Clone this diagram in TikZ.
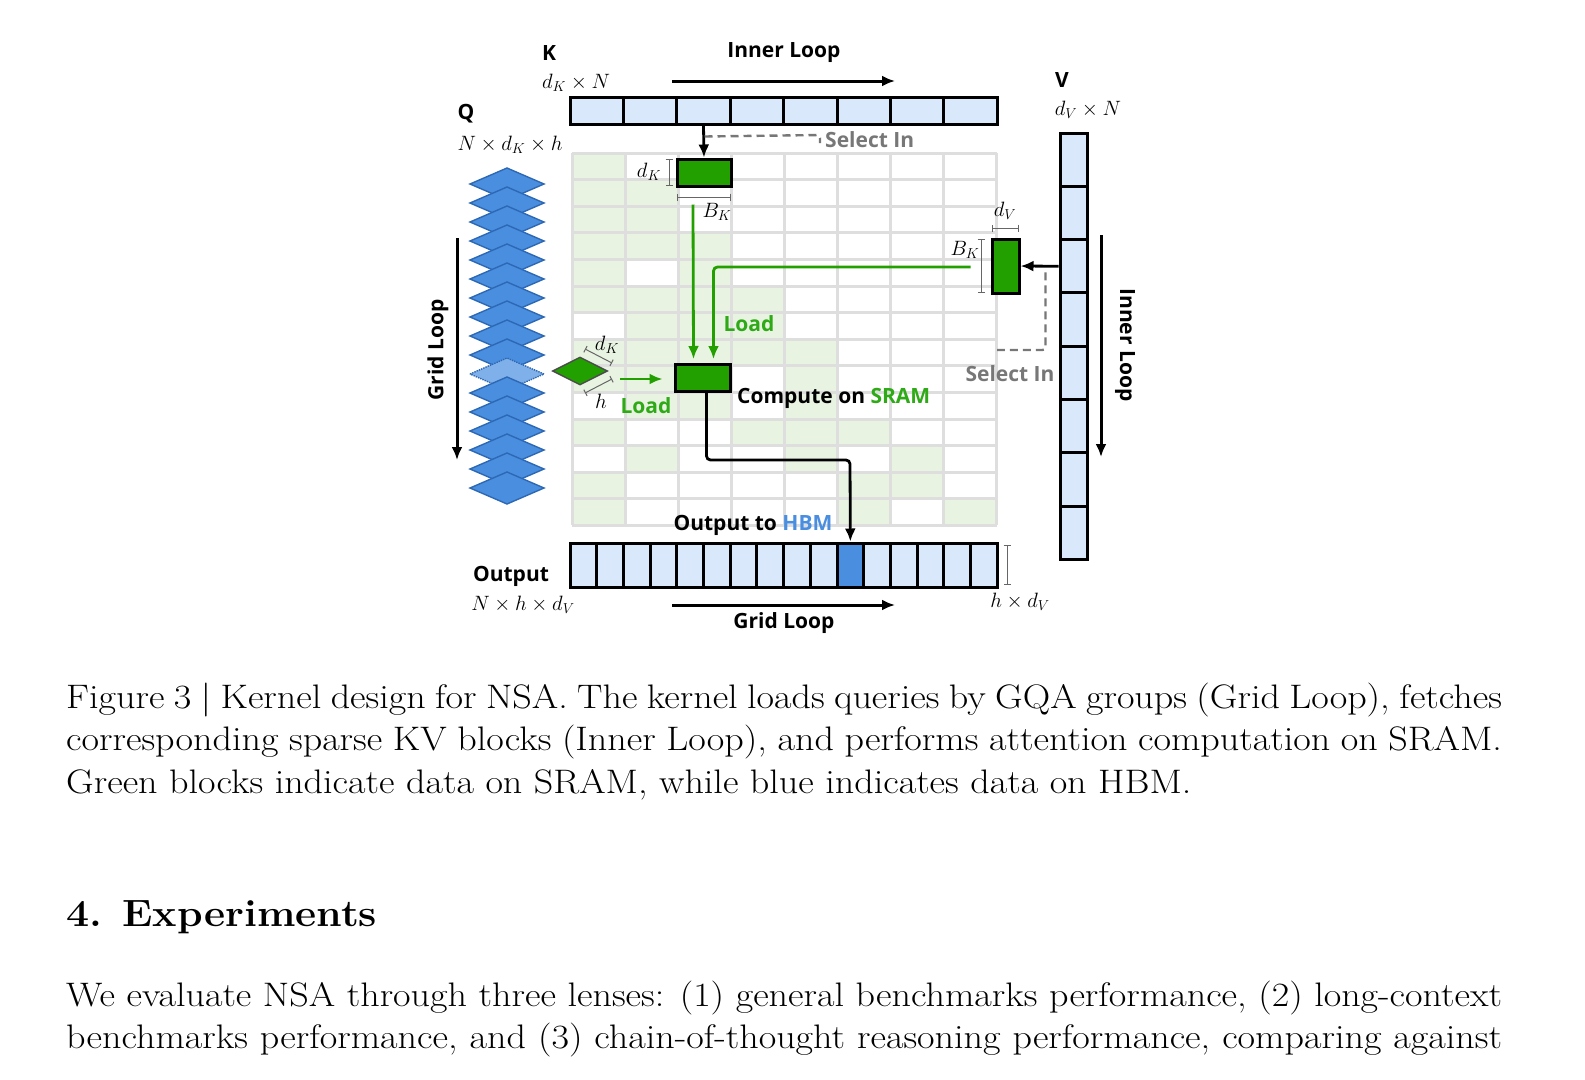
\documentclass[tikz,border=0pt]{standalone}
\usepackage{fontspec}
\newfontfamily\osans{Open Sans}
\usetikzlibrary{shapes.geometric,calc,arrows.meta}
\definecolor{lblue}{HTML}{DAE8FC}
\definecolor{dblue}{HTML}{4A8EE0}
\definecolor{eblue}{HTML}{2C68B4}
\definecolor{sgreen}{HTML}{22A000}
\definecolor{tgreen}{HTML}{2EAA16}
\definecolor{cellgreen}{HTML}{E8F3E2}
\definecolor{gline}{HTML}{DEDEDE}
\definecolor{sel}{HTML}{777777}
\tikzset{>={Latex[length=13pt,width=11pt]}}
\tikzset{
  lbl/.style  = {font=\osans\bfseries\fontsize{21}{24}\selectfont, inner sep=0},
  mth/.style  = {font=\fontsize{21}{24}\selectfont, inner sep=0},
  cell/.style = {draw, fill=lblue, line width=3pt, inner sep=0},
  blk/.style  = {draw, fill=sgreen, line width=3pt, inner sep=0},
  garrow/.style = {->, sgreen, line width=2.8pt},
  dsh/.style  = {sel, line width=2.4pt, dash pattern=on 8pt off 5pt, rounded corners=3pt},
  dim/.style  = {|-|, black!60, line width=1pt},
  txt/.style  = {font=\fontsize{34}{40}\selectfont, inner sep=0, anchor=west}
}
\newcommand{\pline}[1]{\scalebox{1.12}[1]{\makebox[1282pt][s]{#1}}}

\begin{document}
\begin{tikzpicture}[x=1pt,y=-1pt]
  \useasboundingbox (0,0) rectangle (1585,1079);
  % grid of scores
  \foreach \c/\r in {0/0,0/1,1/1,0/2,1/2,0/3,1/3,2/3,0/4,2/4,0/5,1/5,2/5,3/5,
                     1/6,2/6,3/6,0/7,1/7,2/7,3/7,4/7,0/8,1/8,2/8,4/8,1/9,2/9,4/9,
                     0/10,3/10,4/10,5/10,1/11,4/11,6/11,0/12,5/12,6/12,0/13,5/13,7/13}
    \fill[cellgreen] ({572+53.1*\c},{153+26.6*\r}) rectangle ++(53.1,26.6);
  \foreach \c in {0,...,8}
    \draw[gline,line width=3pt] ({572+53.1*\c},153) -- ({572+53.1*\c},525.4);
  \foreach \r in {0,...,14}
    \draw[gline,line width=3pt] (572,{153+26.6*\r}) -- (996.8,{153+26.6*\r});
  % K, V and output
  \foreach \i in {0,...,7}
    \node[cell, minimum width=53.4pt, minimum height=27pt] (k\i) at ({570+26.7+53.4*\i},110.5) {};
  \foreach \i in {0,...,7}
    \node[cell, minimum width=27pt, minimum height=53.3pt] (v\i) at (1073.5,{133+26.65+53.3*\i}) {};
  \foreach \i in {0,...,15}
    \node[cell, minimum width=26.7pt, minimum height=44pt] (o\i) at ({570+13.35+26.7*\i},565) {};
  \node[cell, fill=dblue, minimum width=26.7pt, minimum height=44pt] (o10) at ({570+13.35+26.7*10},565) {};
  % Q stack
  \foreach \j in {0,...,16} {
    \ifnum\j=10
      \fill[dblue!70] (470,{184+19*\j}) -- (507,{168+19*\j}) -- (544,{184+19*\j}) -- (507,{200+19*\j}) -- cycle;
      \draw[eblue,densely dotted,line width=1.4pt] (470,{184+19*\j}) -- (507,{168+19*\j}) -- (544,{184+19*\j}) -- (507,{200+19*\j}) -- cycle;
    \else
      \filldraw[fill=dblue,draw=eblue,line width=1.4pt] (470,{184+19*\j}) -- (507,{168+19*\j}) -- (544,{184+19*\j}) -- (507,{200+19*\j}) -- cycle;
    \fi
  }
  % blocks
  \node[blk, minimum width=54pt, minimum height=27pt] (kblk) at (704,172.5) {};
  \node[blk, minimum width=55pt, minimum height=27pt] (cblk) at (702.5,378) {};
  \node[blk, minimum width=27pt, minimum height=54pt] (vblk) at (1005.5,266) {};
  \node[diamond, fill=sgreen, draw=black!70, line width=1.4pt, minimum width=55pt, minimum height=28pt, inner sep=0] (qd) at (580,371) {};
  % dimensions
  \draw[dim] (669,159) -- (669,186);
  \draw[dim] (677,197) -- (731,197);
  \draw[dim] (992,228) -- (1019,228);
  \draw[dim] (981,239) -- (981,293);
  \draw[dim] (1007,545) -- (1007,585);
  \draw[dim] (585,349) -- (612,363);
  \draw[dim] (612,379) -- (585,393);
  % loops
  \draw[->,line width=3pt] (672,81) -- (895,81);
  \draw[->,line width=3pt] (672,605) -- (895,605);
  \draw[->,line width=3pt] (457,238) -- (457,460);
  \draw[->,line width=3pt] (1101,235) -- (1101,457);
  % connectors
  \draw[->,line width=2.8pt] (k2.south) -- (kblk.north);
  \draw[dsh] ($(k2.south)+(1,11)$) -- (820,135) -- (820,143);
  \draw[->,line width=2.8pt] (v2.west) -- (vblk.east);
  \draw[dsh] ($(v2.west)+(-13,6)$) |- (997,350);
  \draw[garrow] ($(kblk.south)+(-11,17)$) -- ($(cblk.north)+(-9,-4)$);
  \draw[garrow,rounded corners=4pt] ($(vblk.west)+(-20,1)$) -| ($(cblk.north)+(11,-4)$);
  \draw[garrow] ($(qd.east)+(12,8)$) -- ($(cblk.west)+(-11,1)$);
  \draw[->,line width=2.8pt,rounded corners=4pt] ($(cblk.south)+(4,0)$) |- (850,460) -- (o10.north);
  % labels
  \node[lbl] at (549,53) {K};
  \node[lbl] at (784,53) {Inner Loop};
  \node[lbl] at (466,114) {Q};
  \node[lbl] at (1062,80) {V};
  \node[lbl] at (511,576) {Output};
  \node[lbl] at (784,623) {Grid Loop};
  \node[lbl,rotate=90] at (438,350) {Grid Loop};
  \node[lbl,rotate=-90] at (1125,345) {Inner Loop};
  \node[lbl,sel,anchor=west] at (825,140) {Select In};
  \node[lbl,sel] at (1010,374) {Select In};
  \node[lbl,tgreen] at (749,324) {Load};
  \node[lbl,tgreen] at (646,406) {Load};
  \node[lbl,anchor=west] at (737,398) {Compute on \textcolor{tgreen}{SRAM}};
  \node[lbl] at (753,525) {Output to \textcolor{dblue}{HBM}};
  \node[mth] at (576,83) {$d_K\times N$};
  \node[mth] at (510,145) {$N\times d_K\times h$};
  \node[mth] at (1088,110) {$d_V\times N$};
  \node[mth] at (523,605) {$N\times h\times d_V$};
  \node[mth] at (1020,602) {$h\times d_V$};
  \node[mth] at (649,172) {$d_K$};
  \node[mth] at (717,212) {$B_K$};
  \node[mth] at (1005,211) {$d_V$};
  \node[mth] at (965,250) {$B_K$};
  \node[mth] at (607,345) {$d_K$};
  \node[mth] at (601,401) {$h$};
  % page text
  \node[txt] at (66,700) {\pline{Figure 3 | Kernel design for NSA. The kernel loads queries by GQA groups (Grid Loop), fetches}};
  \node[txt] at (66,742) {\pline{corresponding sparse KV blocks (Inner Loop), and performs attention computation on SRAM.}};
  \node[txt] at (66,785) {\scalebox{1.12}[1]{Green blocks indicate data on SRAM, while blue indicates data on HBM.}};
  \node[txt,font=\bfseries\fontsize{38}{44}\selectfont] at (66,917) {\scalebox{1.08}[1]{4.\enspace Experiments}};
  \node[txt] at (66,998) {\pline{We evaluate NSA through three lenses: (1) general benchmarks performance, (2) long-context}};
  \node[txt] at (66,1040) {\pline{benchmarks performance, and (3) chain-of-thought reasoning performance, comparing against}};
\end{tikzpicture}
\end{document}
